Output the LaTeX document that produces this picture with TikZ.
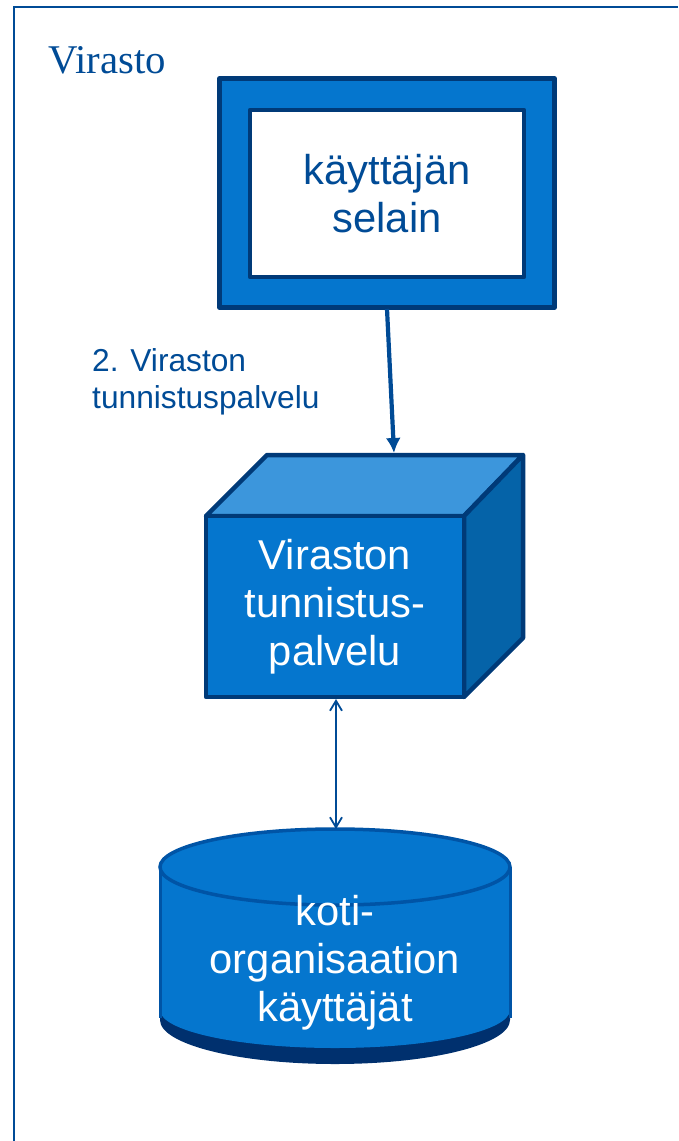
\documentclass[tikz,border=0pt]{standalone}
\usepackage{fontspec}
\setmainfont{Liberation Sans}
\newfontfamily\timesf{Liberation Serif}
\usetikzlibrary{arrows.meta}
\definecolor{navy}{HTML}{003A78}
\definecolor{txtblue}{HTML}{004B96}
\definecolor{fillblue}{HTML}{0576CE}
\definecolor{topblue}{HTML}{3C96DC}
\definecolor{sideblue}{HTML}{0563A8}
\definecolor{cylblue}{HTML}{0054A6}
\definecolor{cyldark}{HTML}{00306E}
\newcommand{\fs}[1]{\fontsize{#1}{#1}\selectfont}
\tikzset{
  bigtext/.style={align=center,inner sep=0pt,font=\fontsize{41.7pt}{48pt}\selectfont},
  facestroke/.style={draw=navy,line width=4.5pt,line join=round},
  conn/.style={draw=txtblue}
}
\begin{document}
\begin{tikzpicture}[x=1pt,y=-1pt]
\useasboundingbox (0,0) rectangle (678,1141);
% frame
\coordinate (fa) at (14,1141);
\coordinate (fb) at (14,7);
\coordinate (fc) at (678,7);
\draw[txtblue,line width=1.6pt] (fa) -- (fb) -- (fc);
\node[anchor=base west,inner sep=0pt,text=txtblue,font={\timesf\fontsize{40.8pt}{48pt}\selectfont}] (agency) at (48,73) {Virasto};
% browser box
\node[rectangle,facestroke,fill=fillblue,minimum width=335pt,minimum height=229pt,inner sep=0pt,outer sep=0pt] (outer) at (387,193) {};
\node[rectangle,facestroke,fill=white,minimum width=274pt,minimum height=167pt,inner sep=0pt,outer sep=0pt,bigtext,text=txtblue] (browser) at (387,193.5) {käyttäjän\\selain};
% cube
\path[facestroke,fill=topblue] (206,516) -- (267,455) -- (523,455) -- (464,516) -- cycle;
\path[facestroke,fill=sideblue] (464,516) -- (523,455) -- (523,638) -- (464,697) -- cycle;
\node[rectangle,facestroke,fill=fillblue,minimum width=258pt,minimum height=181pt,inner sep=0pt,outer sep=0pt,bigtext,text=white] (idp) at (335,606.5) {Viraston\\tunnistus-\\palvelu};
\coordinate (cubetop) at (394,453);
% cylinder
\fill[cyldark] (160,867) -- (160,1020) arc[start angle=180,end angle=360,x radius=175pt,y radius=44pt] -- (510,867) -- cycle;
\fill[fillblue] (160,867) -- (160,1010) arc[start angle=180,end angle=360,x radius=175pt,y radius=38pt] -- (510,867) -- cycle;
\draw[cylblue,line width=3pt] (160,867) -- (160,1018);
\draw[cylblue,line width=3pt] (510,867) -- (510,1018);
\draw[cylblue,line width=3.5pt,fill=fillblue] (335,867) ellipse[x radius=175pt,y radius=38pt];
\node[bigtext,text=white] (users) at (335,963) {koti-\\organisaation\\käyttäjät};
\coordinate (cyltop) at (336,829);
% connectors
\draw[conn,line width=4.2pt,-{Latex[length=15pt,width=15pt]}] (387,309) -- (cubetop);
\draw[conn,line width=1.8pt,{Straight Barb[length=10pt,width=12pt]}-{Straight Barb[length=10pt,width=12pt]}] (336,699) -- (cyltop);
\node[anchor=north west,align=left,inner sep=0pt,text=txtblue,font=\fontsize{31.7pt}{37pt}\selectfont] (label) at (92,348) {2. Viraston\\tunnistuspalvelu};
\end{tikzpicture}
\end{document}
